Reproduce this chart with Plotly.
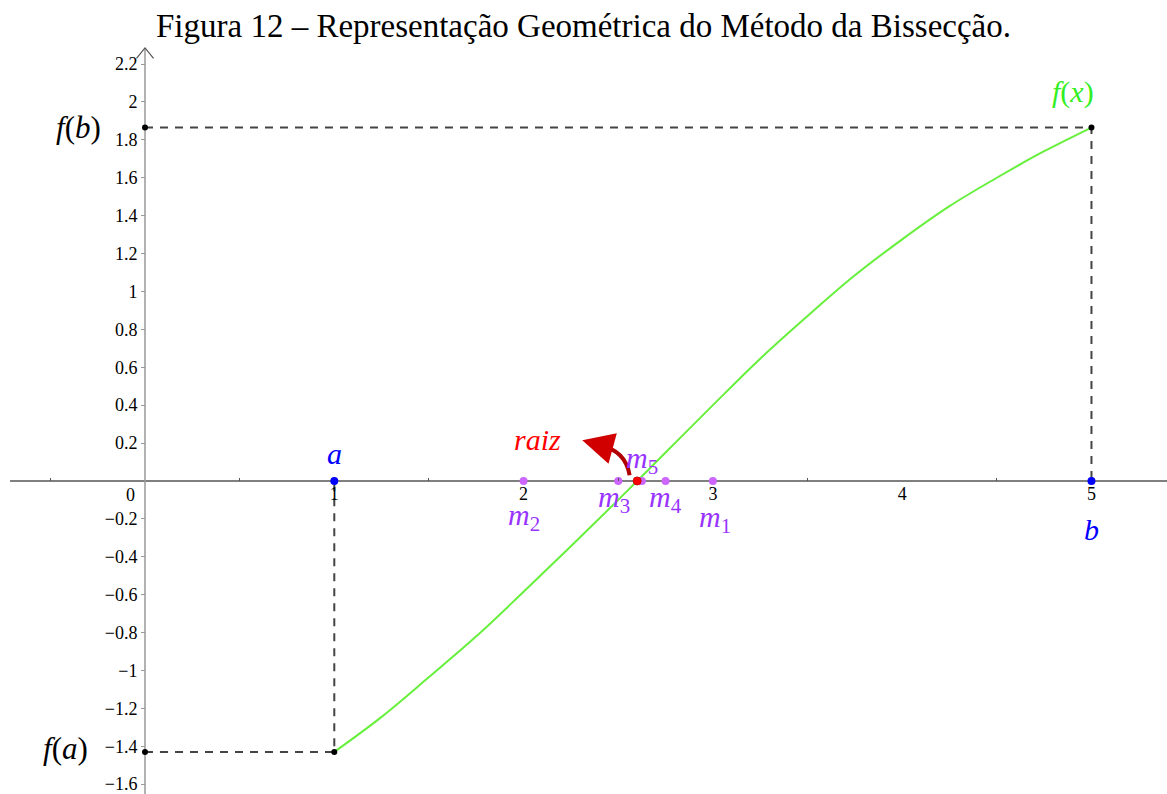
import plotly.graph_objects as go

# Function f(x) sampled on [a, b]
curve_x = [1.0, 1.25, 1.5, 1.75, 2.0, 2.25, 2.5, 2.75, 3.0, 3.25, 3.5, 3.75, 4.0, 4.25, 4.5, 4.75, 5.0]
curve_y = [-1.43, -1.245, -1.035, -0.82, -0.585, -0.345, -0.10, 0.15, 0.40, 0.645, 0.87, 1.085, 1.275, 1.45, 1.60, 1.74, 1.865]

a_val, b_val = 1.0, 5.0
fa_val, fb_val = -1.43, 1.865
root_val = 2.6

mid_names = ["m1", "m2", "m3", "m4", "m5"]
mid_x = [3.0, 2.0, 2.5, 2.75, 2.625]

x_ticks = [1, 2, 3, 4, 5]
y_ticks = [-1.6, -1.4, -1.2, -1.0, -0.8, -0.6, -0.4, -0.2, 0.2, 0.4, 0.6, 0.8, 1.0, 1.2, 1.4, 1.6, 1.8, 2.0, 2.2]

title_text = "Figura 12 – Representação Geométrica do Método da Bissecção."

X_RANGE = [-0.766, 5.399]
Y_RANGE = [-1.652, 2.538]
Y_TOP = 2.285

SERIF = "Liberation Serif"
GREEN = "#66f03c"
BLUE = "#0000ff"
PURPLE_PT = "#cc66ff"
PURPLE_TX = "#9933ff"
DASH = "#444444"

fig = go.Figure()

# dashed guides for f(a) and f(b)
fig.add_trace(go.Scatter(x=[0, b_val, b_val], y=[fb_val, fb_val, 0], mode="lines",
                         line=dict(color=DASH, width=2, dash="8px,7px"), hoverinfo="skip"))
fig.add_trace(go.Scatter(x=[0, a_val, a_val], y=[fa_val, fa_val, 0], mode="lines",
                         line=dict(color=DASH, width=2, dash="8px,7px"), hoverinfo="skip"))

# the function
fig.add_trace(go.Scatter(x=curve_x, y=curve_y, mode="lines",
                         line=dict(color=GREEN, width=2, shape="spline"), hoverinfo="skip"))

# black corner points
fig.add_trace(go.Scatter(x=[0, b_val, 0, a_val], y=[fb_val, fb_val, fa_val, fa_val], mode="markers",
                         marker=dict(color="black", size=6), cliponaxis=False))

# midpoints
fig.add_trace(go.Scatter(x=mid_x, y=[0] * len(mid_x), mode="markers",
                         marker=dict(color=PURPLE_PT, size=8)))

# root
fig.add_trace(go.Scatter(x=[root_val], y=[0], mode="markers",
                         marker=dict(color="#ff0000", size=8, line=dict(color="#cc0000", width=1))))

# endpoints a and b
fig.add_trace(go.Scatter(x=[a_val, b_val], y=[0, 0], mode="markers",
                         marker=dict(color=BLUE, size=8)))

# y-axis arrow head
dx, dy = 0.045, 0.055
fig.add_trace(go.Scatter(x=[-dx, 0, dx], y=[Y_TOP - dy, Y_TOP, Y_TOP - dy], mode="lines",
                         line=dict(color="#555555", width=1.2), hoverinfo="skip"))

shapes = [
    dict(type="line", xref="x", yref="y", x0=X_RANGE[0] + 0.053, x1=X_RANGE[1], y0=0, y1=0,
         line=dict(color="#555555", width=1.5), layer="below"),
    dict(type="line", xref="x", yref="y", x0=0, x1=0, y0=Y_RANGE[0], y1=Y_TOP,
         line=dict(color="#999999", width=1.5), layer="below"),
]

# curved arrow pointing from the root towards its label
tail_x, tail_y = root_val - 0.04, 0.03
mid_cx, mid_cy = root_val - 0.06, 0.16
head_x, head_y = root_val - 0.29, 0.215
shapes.append(dict(type="path", xref="x", yref="y",
                   path=f"M {tail_x},{tail_y} Q {mid_cx},{mid_cy} {head_x + 0.09},{head_y - 0.025}",
                   line=dict(color="#b00000", width=4)))

annotations = [
    dict(x=head_x, y=head_y, ax=head_x + 0.11, ay=head_y - 0.03, xref="x", yref="y",
         axref="x", ayref="y", showarrow=True, arrowhead=2, arrowsize=1.4, arrowwidth=4.5,
         arrowcolor="#d00000", text=""),
    dict(x=0, y=fb_val, xref="x", yref="y", xshift=-67, text="<i>f</i>(<i>b</i>)", showarrow=False,
         font=dict(family=SERIF, size=31, color="black")),
    dict(x=0, y=fa_val, xref="x", yref="y", xshift=-80, yshift=3, text="<i>f</i>(<i>a</i>)", showarrow=False,
         font=dict(family=SERIF, size=31, color="black")),
    dict(x=b_val, y=fb_val, xref="x", yref="y", xshift=-18, yshift=36, text="<i>f</i>(<i>x</i>)", showarrow=False,
         font=dict(family=SERIF, size=30, color="#33ee22")),
    dict(x=a_val, y=0, xref="x", yref="y", yshift=27, text="<i>a</i>", showarrow=False,
         font=dict(family=SERIF, size=30, color=BLUE)),
    dict(x=b_val, y=0, xref="x", yref="y", yshift=-49, text="<i>b</i>", showarrow=False,
         font=dict(family=SERIF, size=30, color=BLUE)),
    dict(x=root_val, y=0, xref="x", yref="y", xshift=-100, yshift=41, text="<i>raiz</i>", showarrow=False,
         font=dict(family=SERIF, size=30, color="#ff0000")),
    dict(x=0, y=0, xref="x", yref="y", xshift=-15, yshift=-14, text="0", showarrow=False,
         font=dict(family=SERIF, size=18, color="black")),
]

# midpoint labels: offsets in pixels
mid_offsets = {"m1": (2, -38), "m2": (0, -36), "m3": (-4, -18), "m4": (0, -18), "m5": (0, 21)}
for name, mx in zip(mid_names, mid_x):
    ox, oy = mid_offsets[name]
    annotations.append(dict(x=mx, y=0, xref="x", yref="y", xshift=ox, yshift=oy,
                            text=f"<i>m</i><sub>{name[1:]}</sub>", showarrow=False,
                            font=dict(family=SERIF, size=30, color=PURPLE_TX)))

fig.update_layout(
    width=1167, height=794,
    margin=dict(l=0, r=0, t=0, b=0),
    paper_bgcolor="white", plot_bgcolor="white",
    showlegend=False,
    title=dict(text=title_text, x=0.5, xanchor="center", y=1 - 25 / 794, yanchor="middle",
               yref="container", font=dict(family=SERIF, size=33, color="black")),
    xaxis=dict(range=X_RANGE, showgrid=False, zeroline=False, showline=False,
               anchor="free", position=(0 - Y_RANGE[0]) / (Y_RANGE[1] - Y_RANGE[0]),
               tickvals=x_ticks, ticktext=[str(v) for v in x_ticks], ticks="",
               tickfont=dict(family=SERIF, size=18, color="black"),
               minor=dict(tickvals=[0.5, 1.5, 2.5, 3.5, 4.5, -0.5], ticks="inside", ticklen=3,
                          tickcolor="#555555")),
    yaxis=dict(range=Y_RANGE, showgrid=False, zeroline=False, showline=False,
               anchor="free", position=(0 - X_RANGE[0]) / (X_RANGE[1] - X_RANGE[0]),
               tickvals=y_ticks, ticktext=[f"{v:g}".replace("-", "\u2212") for v in y_ticks],
               ticks="outside", ticklen=4, tickcolor="#999999", ticklabeloverflow="allow",
               tickfont=dict(family=SERIF, size=18, color="black")),
    shapes=shapes,
    annotations=annotations,
)

fig.write_html("out.html")
